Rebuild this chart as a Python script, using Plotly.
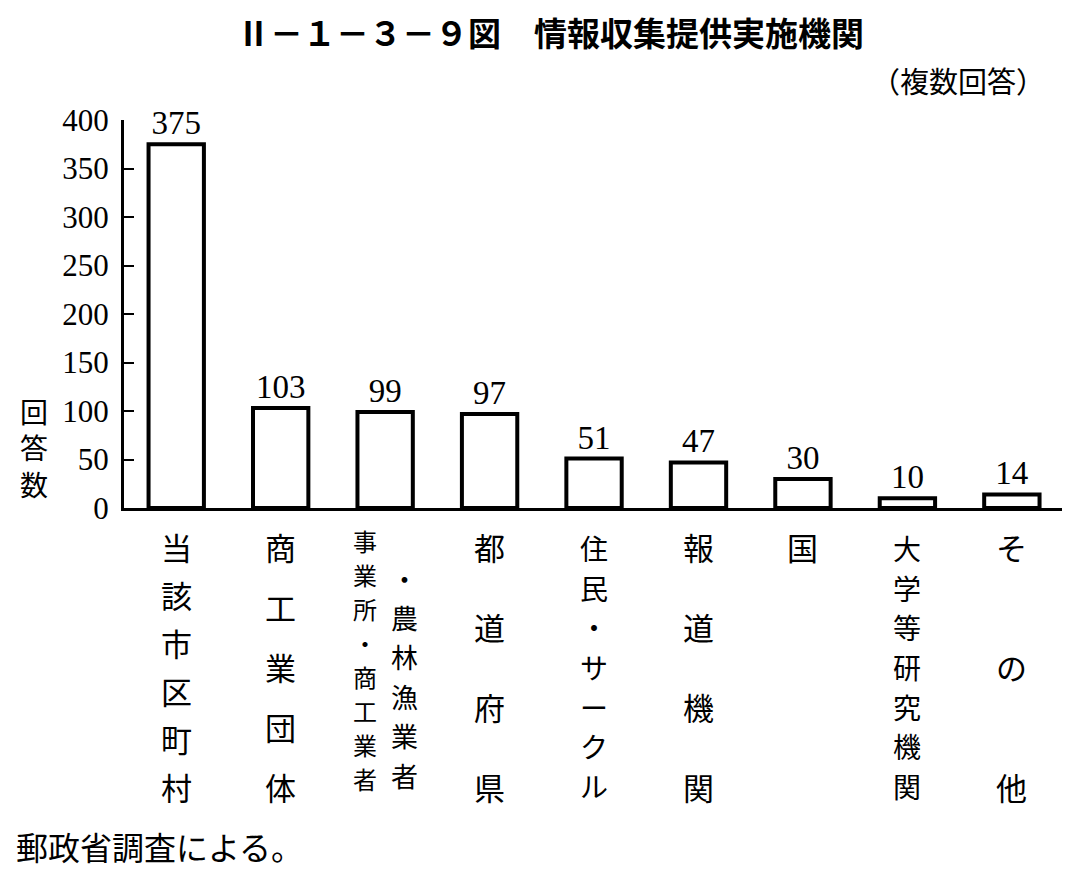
import plotly.graph_objects as go

# データ（郵政省調査、複数回答）
categories = ["当該市区町村", "商工業団体", "事業所・商工業者・農林漁業者", "都道府県",
              "住民・サークル", "報道機関", "国", "大学等研究機関", "その他"]
answers = [375, 103, 99, 97, 51, 47, 30, 10, 14]

# 縦書きラベル（3番目だけ2列）
label_columns = [
    ["当該市区町村"],
    ["商工業団体"],
    ["事業所・商工業者", "・農林漁業者"],
    ["都道府県"],
    ["住民・サークル"],
    ["報道機関"],
    ["国"],
    ["大学等研究機関"],
    ["その他"],
]
y_ticks = [0, 50, 100, 150, 200, 250, 300, 350, 400]

JP = "Noto Sans CJK JP"
NUM = "Liberation Serif"

# 画面上のプロット領域（px）
LEFT, RIGHT, TOP, BOTTOM = 124, 1062, 120, 508
PAGE_OFFSET = 8  # ページ余白の分
W, H = 1061, 861


def px_x(px):
    return (px - LEFT) / (RIGHT - LEFT)


def px_y(py):
    return (BOTTOM - py) / (BOTTOM - TOP)


def vertical(x, text, size, top, bottom):
    # 1文字ずつ上端から下端まで均等に並べる
    n = len(text)
    out = []
    for k, ch in enumerate(text):
        py = top if n == 1 else top + (bottom - top) * k / (n - 1)
        out.append(dict(x=x, xref="x", y=px_y(py), yref="paper",
                        text=ch, showarrow=False,
                        xanchor="center", yanchor="middle",
                        font={"family": JP, "size": size, "color": "black"}))
    return out


fig = go.Figure()
fig.add_trace(go.Bar(
    x=list(range(len(categories))),
    y=answers,
    width=0.53,
    marker={"color": "white", "line": {"color": "black", "width": 4}},
    text=[str(v) for v in answers],
    textposition="outside",
    textfont={"family": NUM, "size": 33, "color": "black"},
    cliponaxis=False,
    hovertext=categories,
))

annotations = []
for i, cols in enumerate(label_columns):
    if len(cols) == 2:
        annotations += vertical(i - 0.19, cols[0], 24, 540, 778)
        annotations += vertical(i + 0.19, cols[1], 27, 578, 775)
    elif len(cols[0]) >= 7:
        annotations += vertical(i, cols[0], 28, 548, 786)
    else:
        annotations += vertical(i, cols[0], 31, 546, 786)

annotations.append(dict(
    x=px_x(550), xref="paper", y=px_y(32), yref="paper",
    text="<b>Ⅱ－１－３－９図　情報収集提供実施機関</b>", showarrow=False,
    xanchor="center", yanchor="middle",
    font={"family": JP, "size": 33, "color": "black"}))

annotations.append(dict(
    x=px_x(1047), xref="paper", y=px_y(80), yref="paper",
    text="（複数回答）", showarrow=False, xanchor="right", yanchor="middle",
    font={"family": JP, "size": 29, "color": "black"}))

annotations.append(dict(
    x=px_x(34), xref="paper", y=px_y(447), yref="paper",
    text="回<br>答<br>数", showarrow=False, xanchor="center", yanchor="middle",
    font={"family": JP, "size": 28, "color": "black"}))

annotations.append(dict(
    x=px_x(14), xref="paper", y=px_y(846), yref="paper",
    text="郵政省調査による。", showarrow=False, xanchor="left", yanchor="middle",
    font={"family": JP, "size": 32, "color": "black"}))

fig.update_layout(
    width=W, height=H,
    margin={"l": LEFT - PAGE_OFFSET, "r": W - (RIGHT - PAGE_OFFSET),
            "t": TOP - PAGE_OFFSET, "b": H - (BOTTOM - PAGE_OFFSET)},
    paper_bgcolor="white", plot_bgcolor="white",
    showlegend=False,
    annotations=annotations,
    xaxis={"range": [-0.5, 8.48], "showticklabels": False, "ticks": "",
           "showline": True, "linecolor": "black", "linewidth": 3,
           "showgrid": False, "zeroline": False, "fixedrange": True},
    yaxis={"range": [0, 400], "tickvals": y_ticks, "ticks": "inside",
           "ticklen": 10, "tickwidth": 2, "tickcolor": "black",
           "ticklabelstandoff": 6,
           "showline": True, "linecolor": "black", "linewidth": 3,
           "showgrid": False, "zeroline": False, "fixedrange": True,
           "tickfont": {"family": NUM, "size": 31, "color": "black"}},
)

fig.write_html("out.html")
